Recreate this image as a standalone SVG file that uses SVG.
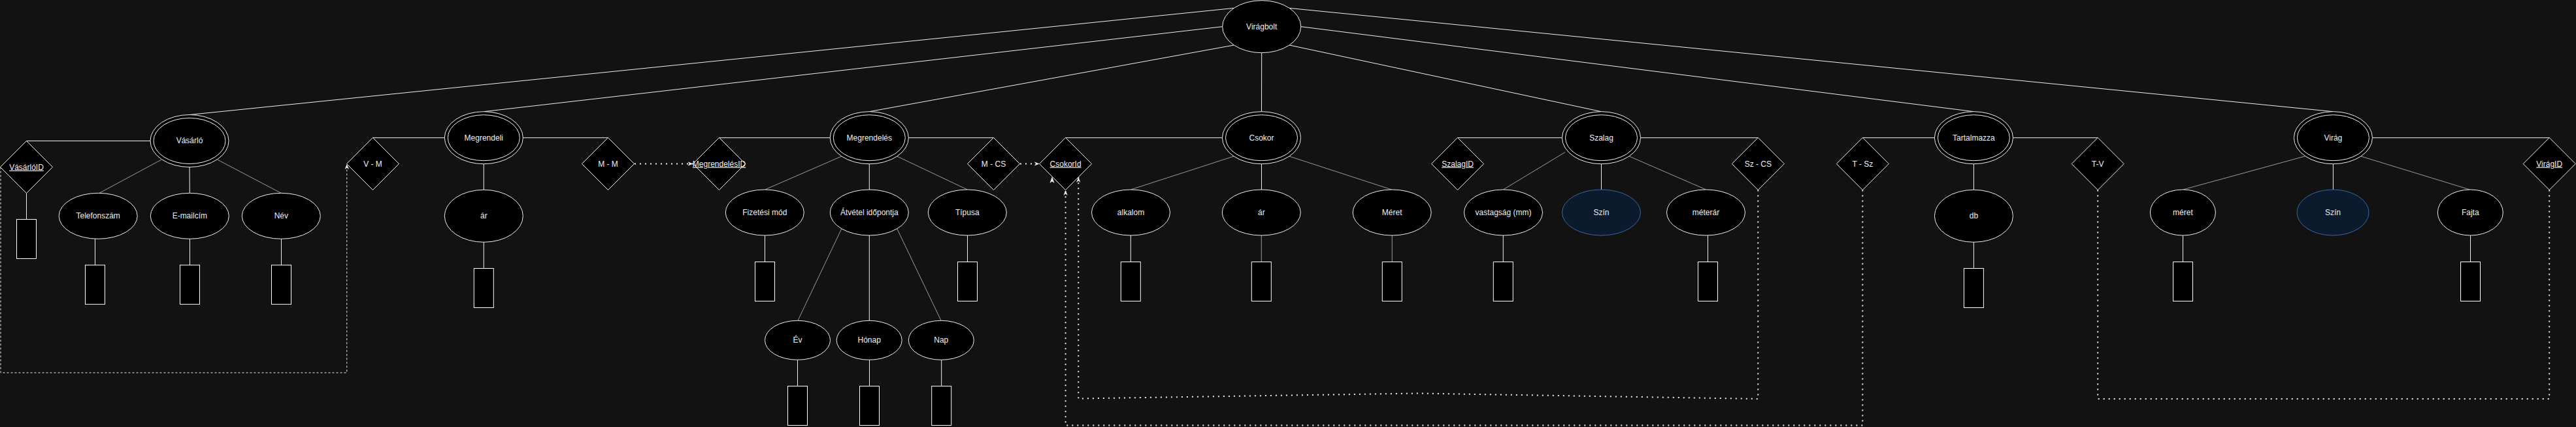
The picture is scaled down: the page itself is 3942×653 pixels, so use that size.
<svg xmlns="http://www.w3.org/2000/svg" width="3942" height="653" viewBox="0 0 3942 653">
<defs>
<style>
.bg{fill:#121212}
.ent{fill:#000;stroke:#f0f0f0;stroke-width:1}
.att{fill:#000;stroke:#f0f0f0;stroke-width:1}
.blue{fill:#0c1a2d;stroke:#3c67a3;stroke-width:1}
.dia{fill:#000;stroke:#f0f0f0;stroke-width:1}
.box{fill:#000;stroke:#ffffff;stroke-width:1}
.t{font-family:"Liberation Sans",Arial,Helvetica,sans-serif;font-size:12px;fill:#f0f0f0;text-anchor:middle}
.u{text-decoration:underline}
.ln{stroke:#f0f0f0;stroke-width:1;fill:none}
.lg{stroke:#9a9a9a;stroke-width:1;fill:none}
.dash{stroke:#f0f0f0;stroke-width:1;fill:none;stroke-dasharray:3 3}
.dot{stroke:#f0f0f0;stroke-width:2;fill:none;stroke-dasharray:2 6}
</style>
<marker id="arr" viewBox="0 0 10 8" refX="10" refY="4" markerWidth="8" markerHeight="7" markerUnits="userSpaceOnUse" orient="auto">
<path d="M0,0 L10,4 L0,8 L3,4 Z" fill="#f0f0f0"/>
</marker>
</defs>
<rect class="bg" x="0" y="0" width="3942" height="653"/>

<g id="connectors">
<!-- Virágbolt to entities -->
<path class="ln" d="M1888.3,12.4 L290,175.5"/>
<path class="ln" d="M1870.7,40.7 L740.3,170.7"/>
<path class="ln" d="M1888.3,69 L1330.3,170.7"/>
<path class="ln" d="M1930.7,80.7 L1930.5,170.7"/>
<path class="ln" d="M1973.1,69 L2450.5,170.7"/>
<path class="ln" d="M1990.7,40.7 L3020.4,170.7"/>
<path class="ln" d="M1973.1,12.4 L3570.4,170.7"/>
<!-- Vásárló -->
<path class="ln" d="M230,215.5 L40.5,215.5"/>
<path class="ln" d="M40.5,295.5 L40.5,335.5"/>
<path class="lg" d="M246.8,244.3 L151.9,295.3"/>
<path class="ln" d="M290,255.5 L290.3,295.3"/>
<path class="lg" d="M333,244.3 L430.1,295.3"/>
<path class="ln" d="M145.5,365.3 L145.5,405.3"/>
<path class="ln" d="M290.5,365.3 L290.5,405.3"/>
<path class="ln" d="M430.5,365.3 L430.5,405.3"/>
<path class="dash" d="M1,255.5 L1,570 L530.8,570 L530.8,251" marker-end="url(#arr)"/>
<!-- Megrendeli -->
<path class="ln" d="M680.3,210.7 L570.5,210.7"/>
<path class="ln" d="M800.3,210.7 L930.5,210.7"/>
<path class="ln" d="M740.3,250.7 L740.3,290.3"/>
<path class="ln" d="M740.3,370.3 L740.3,410.5"/>
<path class="dot" d="M971,250.5 L1060.5,250.5" marker-end="url(#arr)"/>
<!-- Megrendelés -->
<path class="ln" d="M1270.3,210.7 L1100.5,210.7"/>
<path class="ln" d="M1390.3,210.7 L1520.5,210.7"/>
<path class="lg" d="M1287.9,239 L1170.5,290"/>
<path class="ln" d="M1330.3,250.7 L1330.3,290"/>
<path class="lg" d="M1372.7,239 L1480.3,290"/>
<path class="ln" d="M1170.5,360 L1170.5,400.5"/>
<path class="ln" d="M1480.5,360 L1480.5,400.5"/>
<path class="lg" d="M1287.9,349.7 L1220.7,490.7"/>
<path class="ln" d="M1330.3,360 L1330.3,490.7"/>
<path class="lg" d="M1372.7,349.7 L1440.3,490.7"/>
<path class="ln" d="M1220.5,550.3 L1220.5,590.5"/>
<path class="ln" d="M1330.5,550.3 L1330.5,590.5"/>
<path class="ln" d="M1440.7,550.3 L1440.7,590.5"/>
<path class="dot" d="M1561,250.5 L1590.7,250.5" marker-end="url(#arr)"/>
<!-- Csokor -->
<path class="ln" d="M1870.5,210.7 L1630.6,210.7"/>
<path class="lg" d="M1888.1,239 L1730.3,290"/>
<path class="ln" d="M1930.5,250.7 L1930.5,290"/>
<path class="lg" d="M1972.9,239 L2129.6,290"/>
<path class="ln" d="M1730.3,360 L1730.3,400.5"/>
<path class="lg" d="M1930.3,360 L1930.3,400.5"/>
<path class="lg" d="M2130.3,360 L2130.3,400.5"/>
<!-- Szalag -->
<path class="ln" d="M2390.5,210.7 L2230.6,210.7"/>
<path class="ln" d="M2510.5,210.7 L2690.3,210.7"/>
<path class="lg" d="M2395.2,232.7 L2300.3,290"/>
<path class="ln" d="M2450.5,250.7 L2450.5,290"/>
<path class="lg" d="M2493.2,239 L2610.7,290"/>
<path class="ln" d="M2300.3,360 L2300.3,400.5"/>
<path class="ln" d="M2613.5,360 L2613.5,400.5"/>
<path class="dot" d="M2690.3,290.5 L2690.3,610 L2170,601.5 L1650.3,609.5 L1650.3,271" marker-end="url(#arr)"/>
<!-- Tartalmazza -->
<path class="ln" d="M2960.4,210.7 L2850.3,210.7"/>
<path class="ln" d="M3080.4,210.7 L3210.2,210.7"/>
<path class="ln" d="M3020.4,250.7 L3020.4,290.3"/>
<path class="ln" d="M3020.4,370.3 L3020.4,410.5"/>
<path class="dot" d="M2850.3,290.5 L2850.3,650.5 L1630.6,650.5 L1630.6,291" marker-end="url(#arr)"/>
<path class="dot" d="M3210.2,290.5 L3210.2,610 L3901.2,610 L3901.2,290.5"/>
<!-- Virág -->
<path class="ln" d="M3630.4,210.7 L3901.2,210.7"/>
<path class="lg" d="M3527.1,239 L3340.5,290"/>
<path class="ln" d="M3570.4,250.7 L3570.4,290"/>
<path class="lg" d="M3612.8,239 L3779.6,290"/>
<path class="ln" d="M3340.5,360 L3340.5,400.5"/>
<path class="ln" d="M3780.5,360 L3780.5,400.5"/>
<!-- lone arrowhead at CsokorId -->
<path d="M1610,270 L1613.5,280 L1610,277.5 L1606.5,280 Z" fill="#f0f0f0"/>
</g>

<g id="viragbolt"><ellipse class="ent" cx="1930.7" cy="40.7" rx="60" ry="40"/><text class="t" x="1930.7" y="44.7">Virágbolt</text></g>

<g id="vasarlo"><ellipse class="ent" cx="290" cy="215.5" rx="60" ry="40"/><ellipse class="ent" cx="290" cy="215.5" rx="55" ry="35"/><text class="t" x="290" y="218.5">Vásárló</text></g>
<g id="vasarloid"><path class="dia" d="M40.5,215.5 L80.5,255.5 L40.5,295.5 L0.5,255.5 Z"/><text class="t u" x="40.5" y="259.5">VásárlóID</text></g>
<g id="vasarloid-box"><rect class="box" x="25.5" y="335.5" width="30" height="60"/></g>
<g id="telefonszam"><ellipse class="att" cx="150.2" cy="330.3" rx="60" ry="35"/><text class="t" x="150.2" y="334.3">Telefonszám</text></g>
<g id="telefonszam-box"><rect class="box" x="130.5" y="405.3" width="30" height="60"/></g>
<g id="emailcim"><ellipse class="att" cx="290.3" cy="330.3" rx="60" ry="35"/><text class="t" x="290.3" y="334.3">E-mailcím</text></g>
<g id="emailcim-box"><rect class="box" x="275.5" y="405.3" width="30" height="60"/></g>
<g id="nev"><ellipse class="att" cx="430.3" cy="330.3" rx="60" ry="35"/><text class="t" x="430.3" y="334.3">Név</text></g>
<g id="nev-box"><rect class="box" x="415.5" y="405.3" width="30" height="60"/></g>

<g id="vm"><path class="dia" d="M570.5,210.5 L610.5,250.5 L570.5,290.5 L530.5,250.5 Z"/><text class="t" x="570.5" y="254.5">V - M</text></g>
<g id="megrendeli"><ellipse class="ent" cx="740.3" cy="210.7" rx="60" ry="40"/><ellipse class="ent" cx="740.3" cy="210.7" rx="55" ry="35"/><text class="t" x="740.3" y="214.7">Megrendeli</text></g>
<g id="megrendeli-ar"><ellipse class="att" cx="740.3" cy="330.3" rx="60" ry="40"/><text class="t" x="740.3" y="334.3">ár</text></g>
<g id="megrendeli-ar-box"><rect class="box" x="725.3" y="410.5" width="30" height="60"/></g>
<g id="mm"><path class="dia" d="M930.5,210.5 L970.5,250.5 L930.5,290.5 L890.5,250.5 Z"/><text class="t" x="930.5" y="254.5">M - M</text></g>

<g id="megrendelesid"><path class="dia" d="M1100.5,210.5 L1140.5,250.5 L1100.5,290.5 L1060.5,250.5 Z"/><text class="t u" x="1100.5" y="254.5">MegrendelésID</text></g>
<g id="megrendeles"><ellipse class="ent" cx="1330.3" cy="210.7" rx="60" ry="40"/><ellipse class="ent" cx="1330.3" cy="210.7" rx="55" ry="35"/><text class="t" x="1330.3" y="214.7">Megrendelés</text></g>
<g id="fizetesi"><ellipse class="att" cx="1170.3" cy="325" rx="60" ry="35"/><text class="t" x="1170.3" y="329">Fizetési mód</text></g>
<g id="fizetesi-box"><rect class="box" x="1155.5" y="400.5" width="30" height="60"/></g>
<g id="atvetel"><ellipse class="att" cx="1330.3" cy="325" rx="60" ry="35"/><text class="t" x="1330.3" y="329">Átvétel időpontja</text></g>
<g id="tipusa"><ellipse class="att" cx="1480.3" cy="325" rx="60" ry="35"/><text class="t" x="1480.3" y="329">Típusa</text></g>
<g id="tipusa-box"><rect class="box" x="1465.5" y="400.5" width="30" height="60"/></g>
<g id="ev"><ellipse class="att" cx="1220.5" cy="520.3" rx="50" ry="30"/><text class="t" x="1220.5" y="524.3">Év</text></g>
<g id="ev-box"><rect class="box" x="1205.5" y="590.5" width="30" height="60"/></g>
<g id="honap"><ellipse class="att" cx="1330.2" cy="520.3" rx="50" ry="30"/><text class="t" x="1330.2" y="524.3">Hónap</text></g>
<g id="honap-box"><rect class="box" x="1315.5" y="590.5" width="30" height="60"/></g>
<g id="nap"><ellipse class="att" cx="1440.3" cy="520.3" rx="50" ry="30"/><text class="t" x="1440.3" y="524.3">Nap</text></g>
<g id="nap-box"><rect class="box" x="1425.7" y="590.5" width="30" height="60"/></g>
<g id="mcs"><path class="dia" d="M1520.5,210.5 L1560.5,250.5 L1520.5,290.5 L1480.5,250.5 Z"/><text class="t" x="1520.5" y="254.5">M - CS</text></g>

<g id="csokorid"><path class="dia" d="M1630.6,210.5 L1670.6,250.5 L1630.6,290.5 L1590.6,250.5 Z"/><text class="t u" x="1630.6" y="254.5">CsokorId</text></g>
<g id="csokor"><ellipse class="ent" cx="1930.5" cy="210.7" rx="60" ry="40"/><ellipse class="ent" cx="1930.5" cy="210.7" rx="55" ry="35"/><text class="t" x="1930.5" y="214.7">Csokor</text></g>
<g id="alkalom"><ellipse class="att" cx="1730.5" cy="325" rx="60" ry="35"/><text class="t" x="1730.5" y="329">alkalom</text></g>
<g id="alkalom-box"><rect class="box" x="1715.3" y="400.5" width="30" height="60"/></g>
<g id="csokor-ar"><ellipse class="att" cx="1930.3" cy="325" rx="60" ry="35"/><text class="t" x="1930.3" y="329">ár</text></g>
<g id="csokor-ar-box"><rect class="box" x="1915.3" y="400.5" width="30" height="60"/></g>
<g id="meret-csokor"><ellipse class="att" cx="2130.2" cy="325" rx="60" ry="35"/><text class="t" x="2130.2" y="329">Méret</text></g>
<g id="meret-csokor-box"><rect class="box" x="2115.3" y="400.5" width="30" height="60"/></g>

<g id="szalagid"><path class="dia" d="M2230.6,210.5 L2270.6,250.5 L2230.6,290.5 L2190.6,250.5 Z"/><text class="t u" x="2230.6" y="254.5">SzalagID</text></g>
<g id="szalag"><ellipse class="ent" cx="2450.5" cy="210.7" rx="60" ry="40"/><ellipse class="ent" cx="2450.5" cy="210.7" rx="55" ry="35"/><text class="t" x="2450.5" y="214.7">Szalag</text></g>
<g id="vastagsag"><ellipse class="att" cx="2300.5" cy="325" rx="60" ry="35"/><text class="t" x="2300.5" y="329">vastagság (mm)</text></g>
<g id="vastagsag-box"><rect class="box" x="2285.3" y="400.5" width="30" height="60"/></g>
<g id="szin-szalag"><ellipse class="blue" cx="2450.5" cy="325" rx="60" ry="35"/><text class="t" x="2450.5" y="329">Szín</text></g>
<g id="meterar"><ellipse class="att" cx="2610.5" cy="325" rx="60" ry="35"/><text class="t" x="2610.5" y="329">méterár</text></g>
<g id="meterar-box"><rect class="box" x="2598.5" y="400.5" width="30" height="60"/></g>
<g id="szcs"><path class="dia" d="M2690.3,210.5 L2730.3,250.5 L2690.3,290.5 L2650.3,250.5 Z"/><text class="t" x="2690.3" y="254.5">Sz - CS</text></g>

<g id="tsz"><path class="dia" d="M2850.3,210.5 L2890.3,250.5 L2850.3,290.5 L2810.3,250.5 Z"/><text class="t" x="2850.3" y="254.5">T - Sz</text></g>
<g id="tartalmazza"><ellipse class="ent" cx="3020.4" cy="210.7" rx="60" ry="40"/><ellipse class="ent" cx="3020.4" cy="210.7" rx="55" ry="35"/><text class="t" x="3020.4" y="214.7">Tartalmazza</text></g>
<g id="db"><ellipse class="att" cx="3020.4" cy="330.3" rx="60" ry="40"/><text class="t" x="3020.4" y="334.3">db</text></g>
<g id="db-box"><rect class="box" x="3005.4" y="410.5" width="30" height="60"/></g>
<g id="tv"><path class="dia" d="M3210.2,210.5 L3250.2,250.5 L3210.2,290.5 L3170.2,250.5 Z"/><text class="t" x="3210.2" y="254.5">T-V</text></g>

<g id="virag"><ellipse class="ent" cx="3570.4" cy="210.7" rx="60" ry="40"/><ellipse class="ent" cx="3570.4" cy="210.7" rx="55" ry="35"/><text class="t" x="3570.4" y="214.7">Virág</text></g>
<g id="meret-virag"><ellipse class="att" cx="3340.4" cy="325" rx="50" ry="35"/><text class="t" x="3340.4" y="329">méret</text></g>
<g id="meret-virag-box"><rect class="box" x="3325.5" y="400.5" width="30" height="60"/></g>
<g id="szin-virag"><ellipse class="blue" cx="3570" cy="325" rx="55" ry="35"/><text class="t" x="3570" y="329">Szín</text></g>
<g id="fajta"><ellipse class="att" cx="3780.3" cy="325" rx="50" ry="35"/><text class="t" x="3780.3" y="329">Fajta</text></g>
<g id="fajta-box"><rect class="box" x="3765.5" y="400.5" width="30" height="60"/></g>
<g id="viragid"><path class="dia" d="M3901.2,210.5 L3941.2,250.5 L3901.2,290.5 L3861.2,250.5 Z"/><text class="t u" x="3901.2" y="254.5">VirágID</text></g>
</svg>
